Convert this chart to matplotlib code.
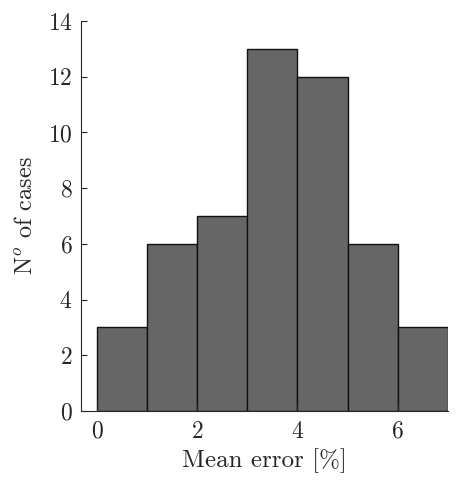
import numpy as np
import matplotlib
matplotlib.use('Agg')
import matplotlib.pyplot as plt

plt.rcParams['font.family'] = 'cmr10'
plt.rcParams['mathtext.fontset'] = 'cm'
plt.rcParams['axes.formatter.use_mathtext'] = True
plt.rcParams['text.color'] = '#262626'
plt.rcParams['axes.labelcolor'] = '#262626'
plt.rcParams['xtick.color'] = '#262626'
plt.rcParams['ytick.color'] = '#262626'
plt.rcParams['axes.edgecolor'] = '#262626'

# Histogram bins and counts
bin_edges = [0, 1, 2, 3, 4, 5, 6, 7]
counts = [3, 6, 7, 13, 12, 6, 3]
xticks = [0, 2, 4, 6]
yticks = [0, 2, 4, 6, 8, 10, 12, 14]

fig = plt.figure(figsize=(4.57, 4.8), dpi=100)
ax = fig.add_axes([0.177, 0.144, 0.803, 0.812])

ax.bar(bin_edges[:-1], counts, width=np.diff(bin_edges), align='edge',
       color='#666666', edgecolor='#111111', linewidth=1.0)

ax.set_xlim(-0.32, 7.0)
ax.set_ylim(0, 14)
ax.set_xticks(xticks)
ax.set_yticks(yticks)
ax.tick_params(direction='in', length=4, labelsize=17, width=0.8)
ax.tick_params(axis='x', pad=7)
ax.tick_params(axis='y', pad=6)

ax.spines['top'].set_visible(False)
ax.spines['right'].set_visible(False)

ax.set_xlabel('Mean error [%]', fontsize=18, labelpad=4)
ax.set_ylabel('N$^o$ of cases', fontsize=17.5, labelpad=8)

fig.savefig('out.png', dpi=100)
